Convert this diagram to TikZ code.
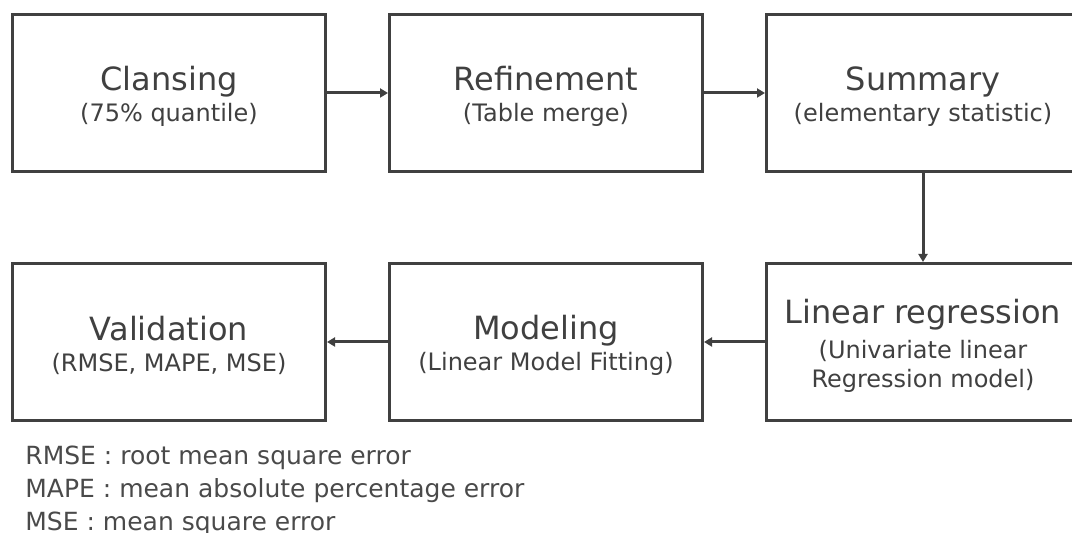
\documentclass[tikz,border=0pt]{standalone}
\usepackage{fontspec}
\setmainfont{DejaVu Sans}
\usepackage{xcolor}
\definecolor{ink}{HTML}{404040}
\definecolor{note}{HTML}{4A4A4A}
\usetikzlibrary{arrows.meta,positioning}

% big first line of each stage box (the strut pushes the text block a bit down)
\newcommand{\stagetitle}[1]{{\fontsize{16}{16}\selectfont\rule{0pt}{16pt}#1}}

\begin{document}
\begin{tikzpicture}[
  x=0.5pt, y=-0.5pt,
  font=\fontsize{12}{15.5}\selectfont,
  stage/.style={draw=ink, line width=1.5pt, minimum width=156.5pt,
    minimum height=78.5pt, align=center, inner sep=0pt, text=ink},
  arr/.style={-{Triangle[length=4pt,width=4.5pt]}, ink, line width=1.5pt}
]
\useasboundingbox (0,0) rectangle (1072,533);

% top row, left to right
\node[stage] (clean) at (169,93) {\stagetitle{Clansing}\\(75\% quantile)};
\node[stage, right=30.5pt of clean] (refine) {\stagetitle{Refinement}\\(Table merge)};
\node[stage, right=30.5pt of refine] (summary) {\stagetitle{Summary}\\(elementary statistic)};
% bottom row, right to left
\node[stage, below=44.5pt of summary] (linreg)
  {\stagetitle{Linear regression}\\[2pt](Univariate linear\\[-1pt]Regression model)};
\node[stage, left=30.5pt of linreg] (model) {\stagetitle{Modeling}\\(Linear Model Fitting)};
\node[stage, left=30.5pt of model] (valid) {\stagetitle{Validation}\\(RMSE, MAPE, MSE)};

\draw[arr] (clean) -- (refine);
\draw[arr] (refine) -- (summary);
\draw[arr] (summary) -- (linreg);
\draw[arr] (linreg) -- (model);
\draw[arr] (model) -- (valid);

% abbreviations
\node[anchor=north west, inner sep=0pt, align=left, text=note,
  font=\fontsize{12.5}{16.4}\selectfont] (abbrev) at (25,446)
  {RMSE : root mean square error\\
   MAPE : mean absolute percentage error\\
   MSE : mean square error};
\end{tikzpicture}
\end{document}
